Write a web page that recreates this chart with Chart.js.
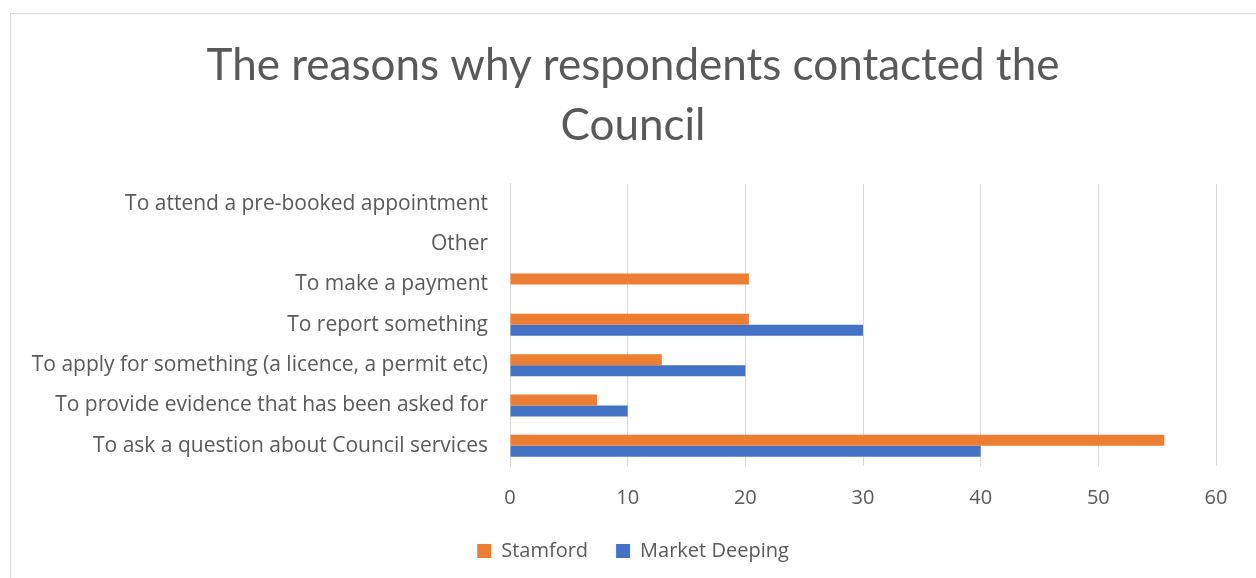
<!DOCTYPE html>
<html>
<head>
<meta charset="utf-8">
<script src="https://cdn.jsdelivr.net/npm/chart.js@4/dist/chart.umd.min.js"></script>
<style>
  html, body { margin: 0; padding: 0; background: #fff; overflow: hidden; }
  #frame { position: absolute; left: 10px; top: 13px; width: 1300px; height: 600px; border: 1px solid #d9d9d9; }
  #c { position: absolute; left: 0; top: 0; }
</style>
</head>
<body>
<div id="frame"></div>
<canvas id="c" width="1256" height="578"></canvas>
<script>
const titleLines = ["The reasons why respondents contacted the", "Council"];
const categories = [
  "To attend a pre-booked appointment",
  "Other",
  "To make a payment",
  "To report something",
  "To apply for something (a licence, a permit etc)",
  "To provide evidence that has been asked for",
  "To ask a question about Council services"
];
const stamford = [0, 0, 20.3, 20.3, 12.9, 7.4, 55.6];
const marketDeeping = [0, 0, 0, 30, 20, 10, 40];
const xTicksMin = 0, xTicksMax = 60, xTickStep = 10;

const TITLE_FONT = "Lato, 'Open Sans', sans-serif";
const FONT = "'Open Sans', 'Noto Sans', sans-serif";
const TXT = "#595959";

new Chart(document.getElementById('c'), {
  type: 'bar',
  data: {
    labels: categories,
    datasets: [
      { label: 'Stamford', data: stamford, backgroundColor: '#ED7D31', borderWidth: 0 },
      { label: 'Market Deeping', data: marketDeeping, backgroundColor: '#4472C4', borderWidth: 0 }
    ]
  },
  options: {
    indexAxis: 'y',
    responsive: false,
    devicePixelRatio: 1,
    animation: false,
    layout: { padding: { left: 10, right: 0, top: 0, bottom: 7 } },
    datasets: { bar: { categoryPercentage: 0.546, barPercentage: 1 } },
    plugins: {
      title: {
        display: true,
        text: titleLines,
        color: TXT,
        font: { family: TITLE_FONT, size: 44, weight: 'normal', lineHeight: 1.36 },
        padding: { top: 36, bottom: 28 }
      },
      legend: {
        position: 'bottom',
        labels: {
          color: TXT,
          font: { family: FONT, size: 20 },
          boxWidth: 14,
          boxHeight: 14,
          padding: 28
        }
      },
      tooltip: { enabled: false }
    },
    scales: {
      x: {
        min: xTicksMin,
        max: xTicksMax,
        ticks: { stepSize: xTickStep, color: TXT, font: { family: FONT, size: 20 }, padding: 20 },
        grid: { color: '#d9d9d9', lineWidth: 1, drawTicks: false },
        border: { display: false },
        afterFit(scale) { scale.height = 47; }
      },
      y: {
        ticks: { color: TXT, font: { family: FONT, size: 21 }, padding: 22, autoSkip: false },
        grid: { display: false, drawTicks: false },
        border: { display: true, color: '#d9d9d9', width: 1 },
        afterFit(scale) { scale.width = 500; }
      },
      yRight: {
        type: 'linear',
        position: 'right',
        display: true,
        ticks: { display: false },
        grid: { display: false, drawTicks: false },
        border: { display: false },
        afterFit(scale) { scale.width = 40; }
      }
    }
  }
});
</script>
</body>
</html>
